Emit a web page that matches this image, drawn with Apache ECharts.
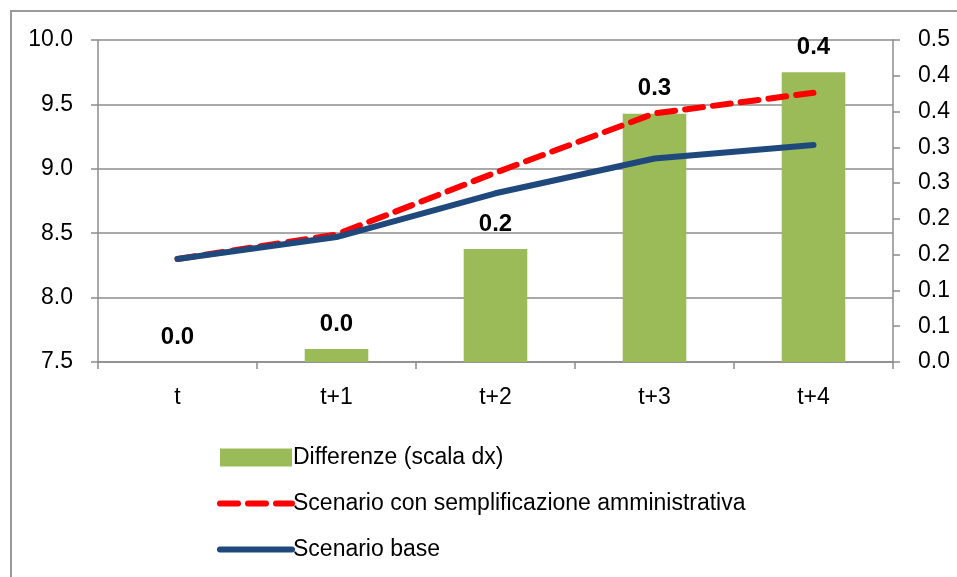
<!DOCTYPE html>
<html>
<head>
<meta charset="utf-8">
<script src="https://cdn.jsdelivr.net/npm/echarts@6/dist/echarts.min.js"></script>
<style>
  html, body { margin: 0; padding: 0; background: #fff; }
  #main { width: 957px; height: 577px; }
</style>
</head>
<body>
<div id="main"></div>
<script>
// categorie (asse x)
var categories = ['t', 't+1', 't+2', 't+3', 't+4']
// differenze, scala dx
var differenze = [0, 0.018, 0.158, 0.347, 0.405]
// scenari, scala sx
var scenarioSemplificazione = [8.30, 8.49, 8.97, 9.43, 9.59]
var scenarioBase = [8.30, 8.47, 8.81, 9.08, 9.185]

var FONT = '"Liberation Sans", Arial, sans-serif'
var AXIS_GREY = '#8c8c8c'

// arrotondamento "half up" come Excel (0.05 -> 0.1)
function oneDecimal(v) {
  return (Math.round(v * 10 + 1e-6) / 10).toFixed(1)
}

var chartObj = echarts.init(document.getElementById('main'))

var option = {
  animation: false,
  textStyle: { fontFamily: FONT },
  grid: {
    left: 98,
    right: 64,
    top: 40,
    bottom: 215,
    containLabel: false
  },
  graphic: [
    {
      // cornice esterna (tagliata a destra e in basso)
      type: 'rect',
      shape: { x: 11, y: 11, width: 1000, height: 620 },
      style: { fill: 'none', stroke: '#9a9a9a', lineWidth: 2 },
      silent: true
    }
  ],
  legend: {
    orient: 'vertical',
    left: 212,
    top: 441,
    itemWidth: 72,
    itemHeight: 18,
    itemGap: 23,
    textStyle: { fontSize: 23, color: '#000', fontFamily: FONT, padding: [0, 0, 0, -4] },
    data: [
      { name: 'Differenze (scala dx)', icon: 'rect' },
      {
        name: 'Scenario con semplificazione amministrativa',
        // niente simbolo, solo la linea
        itemStyle: { opacity: 0 },
        lineStyle: { width: 6 }
      },
      {
        name: 'Scenario base',
        itemStyle: { opacity: 0 },
        lineStyle: { width: 6 }
      }
    ]
  },
  xAxis: [
    {
      type: 'category',
      data: categories,
      boundaryGap: true,
      axisTick: {
        show: true,
        alignWithLabel: false,
        length: 7,
        lineStyle: { color: AXIS_GREY, width: 1.5 }
      },
      axisLine: { lineStyle: { color: AXIS_GREY, width: 1.5 } },
      axisLabel: { color: '#000', fontSize: 23, margin: 24, fontFamily: FONT },
      splitLine: { show: false }
    }
  ],
  yAxis: [
    {
      type: 'value',
      min: 7.5,
      max: 10,
      interval: 0.5,
      axisLine: { show: true, lineStyle: { color: AXIS_GREY, width: 1.5 } },
      axisTick: { show: true, length: 7, lineStyle: { color: AXIS_GREY, width: 1.5 } },
      axisLabel: {
        color: '#000',
        fontSize: 23,
        margin: 25,
        fontFamily: FONT,
        formatter: function (v) { return v.toFixed(1) }
      },
      splitLine: { show: true, lineStyle: { color: AXIS_GREY, width: 1.5 } }
    },
    {
      type: 'value',
      min: 0,
      max: 0.45,
      interval: 0.05,
      position: 'right',
      axisLine: { show: true, lineStyle: { color: AXIS_GREY, width: 1.5 } },
      axisTick: { show: true, length: 7, lineStyle: { color: AXIS_GREY, width: 1.5 } },
      axisLabel: {
        color: '#000',
        fontSize: 23,
        margin: 25,
        fontFamily: FONT,
        formatter: oneDecimal
      },
      splitLine: { show: false }
    }
  ],
  series: [
    {
      name: 'Differenze (scala dx)',
      type: 'bar',
      yAxisIndex: 1,
      barWidth: '40%',
      itemStyle: { color: '#9bbb59' },
      label: {
        show: true,
        position: 'top',
        distance: 13,
        fontSize: 24,
        fontWeight: 'bold',
        color: '#000',
        fontFamily: FONT,
        formatter: function (p) { return oneDecimal(p.value) }
      },
      data: differenze,
      z: 1
    },
    {
      name: 'Scenario con semplificazione amministrativa',
      type: 'line',
      yAxisIndex: 0,
      symbol: 'none',
      lineStyle: { color: '#ff0000', width: 6, type: [18, 10], cap: 'round' },
      itemStyle: { color: '#ff0000' },
      data: scenarioSemplificazione,
      z: 3
    },
    {
      name: 'Scenario base',
      type: 'line',
      yAxisIndex: 0,
      symbol: 'none',
      lineStyle: { color: '#1f497d', width: 6, cap: 'round' },
      itemStyle: { color: '#1f497d' },
      data: scenarioBase,
      z: 4
    }
  ]
}

chartObj.setOption(option, true)
</script>
</body>
</html>
